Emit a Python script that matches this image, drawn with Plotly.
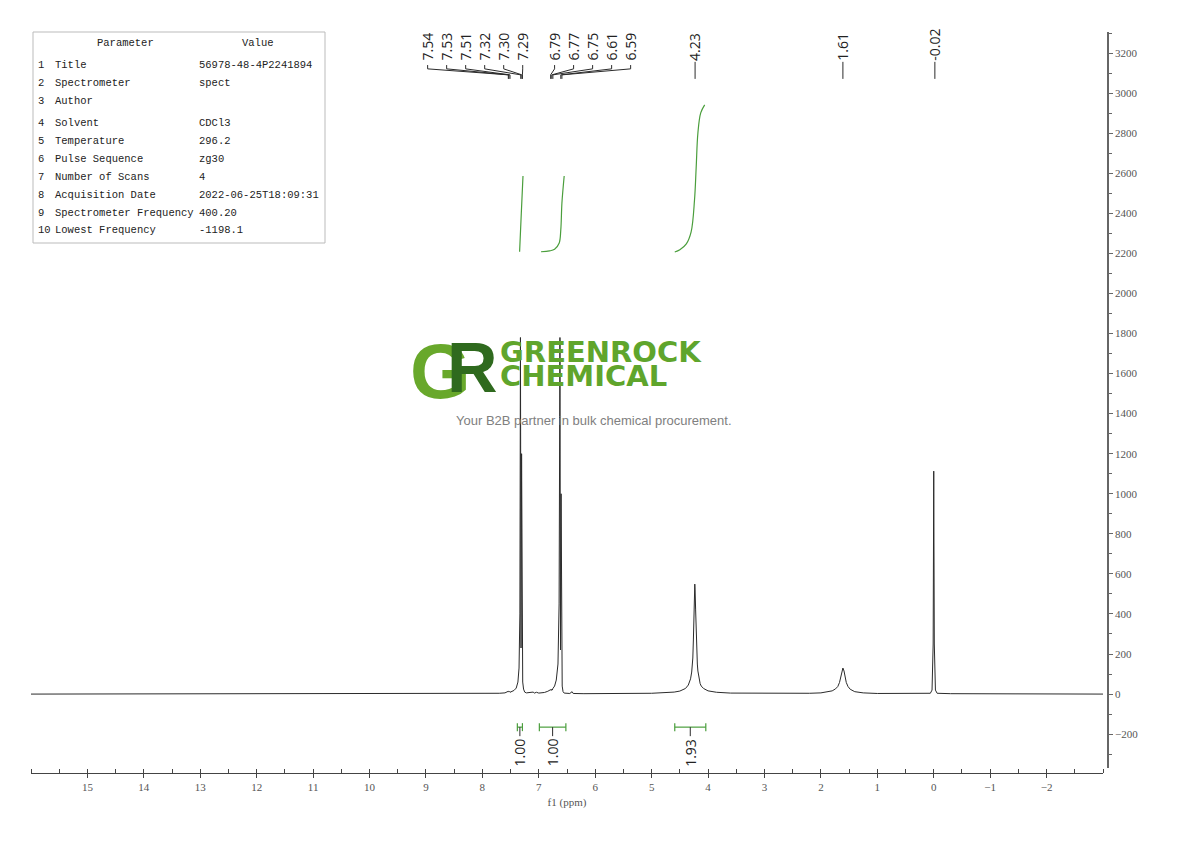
import plotly.graph_objects as go

# Spectrum (ppm, intensity)
shift_ppm = [16.0, 10.0, 8.0, 7.70, 7.60, 7.55, 7.54, 7.53, 7.52, 7.51, 7.48, 7.44, 7.40,
             7.37, 7.35, 7.335, 7.325, 7.315, 7.305, 7.295, 7.285, 7.27, 7.25, 7.22,
             7.10, 7.08, 7.04, 7.00, 6.90, 6.84, 6.80, 6.79, 6.78, 6.77, 6.76, 6.75,
             6.72, 6.69, 6.66, 6.64, 6.625, 6.615, 6.605, 6.595, 6.585, 6.57, 6.55,
             6.45, 6.41, 6.39, 6.20, 5.00, 4.80, 4.60, 4.50, 4.45, 4.40, 4.35, 4.33,
             4.31, 4.29, 4.28, 4.27, 4.26, 4.25, 4.24, 4.235, 4.23, 4.22, 4.21, 4.20,
             4.19, 4.18, 4.16, 4.14, 4.12, 4.08, 4.00, 3.85, 3.60, 3.00, 2.20, 2.00,
             1.90, 1.80, 1.74, 1.70, 1.67, 1.65, 1.63, 1.61, 1.59, 1.57, 1.55, 1.52,
             1.48, 1.40, 1.25, 1.00, 0.30, 0.06, 0.03, 0.01, 0.00, -0.01, -0.03,
             -0.06, -0.30, -3.0]
intensity = [0, 1, 2, 4, 6, 12, 14, 10, 13, 9, 12, 18, 30,
             60, 130, 400, 1780, 230, 1200, 260, 60, 25, 10, 6,
             10, 5, 9, 5, 8, 14, 20, 22, 18, 24, 20, 28,
             40, 70, 150, 450, 1780, 220, 1000, 200, 40, 12, 5,
             3, 12, 3, 2, 4, 6, 10, 15, 20, 28, 45, 58,
             76, 110, 135, 180, 270, 400, 510, 549, 520, 420, 290, 210,
             150, 115, 76, 52, 40, 28, 16, 9, 5, 3, 4, 6,
             10, 16, 26, 38, 58, 80, 112, 130, 115, 85, 58, 38,
             24, 12, 6, 3, 2, 4, 20, 250, 1113, 250, 20,
             4, 2, 0]

# Integral curves
int1_x = [7.34, 7.31, 7.28]
int1_y = [2208, 2400, 2586]
int2_x = [6.96, 6.81, 6.72, 6.64, 6.61, 6.59, 6.55]
int2_y = [2208, 2212, 2220, 2250, 2317, 2451, 2586]
int3_x = [4.59, 4.50, 4.385, 4.30, 4.24, 4.21, 4.18, 4.13, 4.06]
int3_y = [2207, 2218, 2247, 2307, 2466, 2631, 2801, 2901, 2941]

# Integral brackets (from, to) and values
int_from = [7.38, 6.99, 4.59]
int_to = [7.29, 6.52, 4.04]
int_values = ["1.00", "1.00", "1.93"]

# Peak picking labels
group_peaks = [[7.54, 7.53, 7.51, 7.32, 7.30, 7.29],
               [6.79, 6.77, 6.75, 6.61, 6.59]]
single_peaks = [4.23, 1.61, -0.02]

# x tick labels
x_ticks = list(range(15, -3, -1))

# Parameter table
param_names = ["Title", "Spectrometer", "Author", "Solvent", "Temperature",
               "Pulse Sequence", "Number of Scans", "Acquisition Date",
               "Spectrometer Frequency", "Lowest Frequency"]
param_values = ["56978-48-4P2241894", "spect", "", "CDCl3", "296.2", "zg30", "4",
                "2022-06-25T18:09:31", "400.20", "-1198.1"]

# plot area in pixels (page body has an 8px margin)
L, R, T, B = 31, 1108, 32, 773
OFF = 8
def px_x(p):
    return (p - L) / (R - L)
def px_y(p):
    return (B - p) / (B - T)

GREEN = "#4a9e3c"
LINE = "#2b2b2b"
serif = "Liberation Serif"
mono = "Liberation Mono"

fig = go.Figure()
fig.add_trace(go.Scatter(x=shift_ppm, y=intensity, mode="lines",
                         line=dict(color=LINE, width=1), hoverinfo="skip"))
for xs, ys in [(int1_x, int1_y), (int2_x, int2_y), (int3_x, int3_y)]:
    fig.add_trace(go.Scatter(x=xs, y=ys, mode="lines", line=dict(color=GREEN, width=1.2, shape="spline"),
                             hoverinfo="skip"))

shapes = []
annotations = []

# integral brackets
for a, b, v in zip(int_from, int_to, int_values):
    c = (a + b) / 2
    shapes.append(dict(type="line", xref="x", yref="y", x0=a, x1=b, y0=-165, y1=-165,
                       line=dict(color=GREEN, width=1.2)))
    for e in (a, b):
        shapes.append(dict(type="line", xref="x", yref="y", x0=e, x1=e, y0=-145, y1=-185,
                           line=dict(color=GREEN, width=1.2)))
    shapes.append(dict(type="line", xref="x", yref="y", x0=c, x1=c, y0=-165, y1=-210,
                       line=dict(color=LINE, width=1)))
    annotations.append(dict(x=c, y=-212, xref="x", yref="y", text=v, textangle=-90,
                            showarrow=False, yanchor="top", xanchor="center",
                            font=dict(family="Open Sans", size=14, color="#222")))

# peak labels: grouped with bracket connectors
group_start = [8.97, 6.72]
spacing = 0.337
for start, peaks in zip(group_start, group_peaks):
    for i, p in enumerate(peaks):
        lx = start - i * spacing
        annotations.append(dict(x=lx, y=3151, xref="x", yref="y", text=f"{p:.2f}", textangle=-90,
                                showarrow=False, yanchor="bottom", xanchor="center",
                                font=dict(family="Open Sans", size=14, color="#222")))
        shapes.append(dict(type="path", xref="x", yref="y",
                           path=f"M {lx},3140 L {lx},3121 L {p},3091 L {p},3071",
                           line=dict(color=LINE, width=1)))
for p in single_peaks:
    annotations.append(dict(x=p, y=3151, xref="x", yref="y", text=f"{p:.2f}", textangle=-90,
                            showarrow=False, yanchor="bottom", xanchor="center",
                            font=dict(family="Open Sans", size=14, color="#222")))
    shapes.append(dict(type="line", xref="x", yref="y", x0=p, x1=p, y0=3156, y1=3071,
                       line=dict(color=LINE, width=1)))

# parameter table
shapes.append(dict(type="rect", xref="paper", yref="paper", x0=px_x(33), x1=px_x(325),
                   y0=px_y(243), y1=px_y(32), line=dict(color="#bbbbbb", width=1),
                   fillcolor="rgba(255,255,255,0)"))
tfont = dict(family=mono, size=10.5, color="#222")
annotations.append(dict(x=px_x(125), y=px_y(43), xref="paper", yref="paper", text="Parameter",
                        showarrow=False, xanchor="center", yanchor="middle", font=tfont))
annotations.append(dict(x=px_x(258), y=px_y(43), xref="paper", yref="paper", text="Value",
                        showarrow=False, xanchor="center", yanchor="middle", font=tfont))
row_y = [65, 83, 101, 123, 141, 159, 177, 195, 213, 230]
for i, (n, v) in enumerate(zip(param_names, param_values)):
    annotations.append(dict(x=px_x(36), y=px_y(row_y[i]), xref="paper", yref="paper",
                            text=str(i + 1), showarrow=False, xanchor="left", yanchor="middle",
                            font=tfont))
    annotations.append(dict(x=px_x(53), y=px_y(row_y[i]), xref="paper", yref="paper",
                            text=n, showarrow=False, xanchor="left", yanchor="middle", font=tfont))
    if v:
        annotations.append(dict(x=px_x(197), y=px_y(row_y[i]), xref="paper", yref="paper",
                                text=v, showarrow=False, xanchor="left", yanchor="middle",
                                font=tfont))

# watermark logo
annotations.append(dict(x=px_x(440), y=px_y(371), xref="paper", yref="paper", text="<b>G</b>",
                        showarrow=False, yanchor="middle",
                        font=dict(family="Liberation Sans", size=78, color="#68a82b")))
annotations.append(dict(x=px_x(472), y=px_y(368), xref="paper", yref="paper", text="<b>R</b>",
                        showarrow=False, yanchor="middle",
                        font=dict(family="Liberation Sans", size=70, color="#2f6a1e")))
annotations.append(dict(x=px_x(498), y=px_y(352), xref="paper", yref="paper",
                        text="GREENROCK", showarrow=False, xanchor="left", yanchor="middle",
                        font=dict(family="DejaVu Sans", size=29, color="#5fa52c", weight=600)))
annotations.append(dict(x=px_x(498), y=px_y(376), xref="paper", yref="paper",
                        text="CHEMICAL", showarrow=False, xanchor="left", yanchor="middle",
                        font=dict(family="DejaVu Sans", size=29, color="#5fa52c", weight=600)))
annotations.append(dict(x=px_x(594), y=px_y(421), xref="paper", yref="paper",
                        text="Your B2B partner in bulk chemical procurement.", showarrow=False,
                        xanchor="center", yanchor="middle",
                        font=dict(family="Liberation Sans", size=13, color="#808080")))

fig.update_layout(
    width=1190, height=841,
    margin=dict(l=L - OFF, r=1190 - R + OFF, t=T - OFF, b=841 - B + OFF),
    paper_bgcolor="white", plot_bgcolor="white",
    showlegend=False,
    shapes=shapes, annotations=annotations,
    xaxis=dict(domain=[0, (1103 - L) / (R - L)], range=[16.0, -3.0], anchor="free", position=0,
               tickmode="array", tickvals=x_ticks, ticks="outside", ticklen=4,
               tickcolor="#444", showline=True, linecolor="#444", linewidth=1,
               showgrid=False, zeroline=False,
               tickfont=dict(family=serif, size=11, color="#555"),
               minor=dict(ticks="inside", tickmode="linear", dtick=0.5, tick0=0, ticklen=4,
                          tickcolor="#444"),
               title=dict(text="f1 (ppm)", font=dict(family=serif, size=11, color="#555"), standoff=6)),
    yaxis=dict(domain=[(B - 768) / (B - T), 1], range=[-369, 3305], anchor="free", position=1,
               side="right", tickmode="linear", tick0=0, dtick=200, ticks="outside", ticklen=4,
               tickcolor="#666", showline=True, linecolor="#666", linewidth=1.5,
               showgrid=False, zeroline=False,
               tickfont=dict(family=serif, size=11, color="#555"),
               minor=dict(ticks="outside", dtick=100, tick0=0, ticklen=3, tickcolor="#666")),
)

fig.write_html("out.html")
